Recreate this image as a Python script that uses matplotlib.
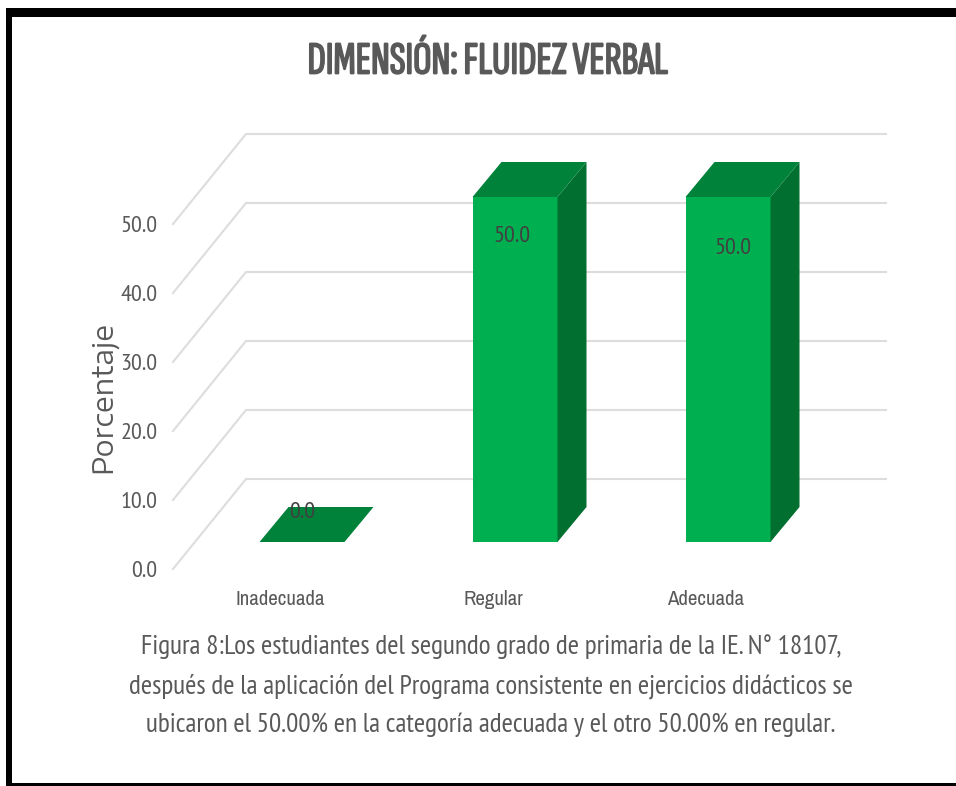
import numpy as np
import matplotlib.pyplot as plt
import matplotlib.patheffects as pe
from matplotlib.patches import Polygon, Rectangle

categorias = ['Inadecuada', 'Regular', 'Adecuada']
valores = [0.0, 50.0, 50.0]
ticks_y = [0, 10, 20, 30, 40, 50]
titulo = 'DIMENSIÓN: FLUIDEZ VERBAL'
eje_y = 'Porcentaje'
pie = ['Figura 8:Los estudiantes del segundo grado de primaria de la IE. N° 18107,',
       'después de la aplicación del Programa consistente en ejercicios didácticos se',
       'ubicaron el 50.00% en la categoría adecuada y el otro 50.00% en regular.']

W, H = 956, 786
narrow = ['Archivo Narrow', 'Liberation Sans', 'DejaVu Sans']
pt_narrow = ['PT Sans Narrow', 'DejaVu Sans']
gris = '#595959'

fig = plt.figure(figsize=(W/100, H/100), dpi=100)
fig.patch.set_facecolor('white')

# marco negro (pixeles)
def rect_px(x0, y0, x1, y1):
    fig.add_artist(Rectangle((x0/W, 1-y1/H), (x1-x0)/W, (y1-y0)/H, transform=fig.transFigure,
                             facecolor='black', edgecolor='none'))
rect_px(6, 8, W, 17)
rect_px(6, 8, 12, 786)
rect_px(6, 783, W, 786)

# ejes: frente del piso en y=569px, 6.9 px por unidad, 213 px entre categorias
px_x0, px_x1, px_y0, px_y1 = 173, 886, 569, 134
ax = fig.add_axes([px_x0/W, 1-px_y0/H, (px_x1-px_x0)/W, (px_y0-px_y1)/H])
esc_x, esc_y = 213.0, 6.9
centro0 = 302
ax.set_xlim((px_x0-centro0)/esc_x, (px_x1-centro0)/esc_x)
ax.set_ylim(0, (px_y0-px_y1)/esc_y)
for s in ax.spines.values():
    s.set_visible(False)
ax.patch.set_alpha(0)

x = np.arange(len(categorias))

# rejilla con profundidad
fondo_dx, fondo_dy = 73/esc_x, 90/esc_y
xl = ax.get_xlim()
for t in ticks_y:
    ax.plot([xl[0], xl[0]+fondo_dx, xl[1]], [t, t+fondo_dy, t+fondo_dy],
            color='#DDDDDD', lw=1.5, zorder=1, clip_on=False, solid_joinstyle='miter')

# barras 3D
ancho = 85/esc_x
piso = 27/esc_y
dx, dy = 29/esc_x, 35/esc_y
for xi, v in zip(x, valores):
    izq, der = xi-ancho/2, xi+ancho/2
    base, tope = piso, piso+v
    if v > 0:
        ax.bar(xi, v, width=ancho, bottom=piso, color='#00B050', zorder=3, linewidth=0)
        ax.add_patch(Polygon([(der, base), (der+dx, base+dy), (der+dx, tope+dy), (der, tope)],
                             facecolor='#006F30', edgecolor='none', zorder=3))
    ax.add_patch(Polygon([(izq, tope), (der, tope), (der+dx, tope+dy), (izq+dx, tope+dy)],
                         facecolor='#00823B', edgecolor='none', zorder=3))

# etiquetas de datos, desplazadas como en el original (pixeles)
desp_x = [0, -3, 5]
desp_y = [30, -40, -52]
for xi, v, ox, oy in zip(x, valores, desp_x, desp_y):
    ax.annotate('%.1f' % v, (xi, piso+v), xytext=(ox*0.72, oy*0.72), textcoords='offset points',
                ha='center', va='center', fontsize=17.5, color='#404040', family=pt_narrow, zorder=5)

# ticks
ax.set_yticks(ticks_y)
ax.set_yticklabels(['%.1f' % t for t in ticks_y], fontsize=17.5, color=gris, family=pt_narrow)
ax.tick_params(axis='y', length=0, pad=11)
ax.set_xticks(x-22/esc_x)
ax.set_xticklabels(categorias, fontsize=15, color=gris, family=narrow)
ax.tick_params(axis='x', length=0, pad=15)

# la fuente no trae negrita: se engrosa con un trazo
t_titulo = fig.text(488/W, 1-62/H, titulo, ha='center', va='center', fontsize=33,
                    color=gris, family=['Sofia Sans Extra Condensed', 'DejaVu Sans'])
t_titulo.set_path_effects([pe.withStroke(linewidth=1.3, foreground=gris)])
fig.text(102/W, 1-397/H, eje_y, rotation=90, ha='center', va='center', fontsize=20.5,
         color=gris, family=['Encode Sans Expanded', 'DejaVu Sans'])
for yp, linea in zip([647, 686, 725], pie):
    fig.text(491/W, 1-yp/H, linea, ha='center', va='center', fontsize=19.6, color=gris,
             family=pt_narrow)

fig.savefig('out.png', dpi=100)
